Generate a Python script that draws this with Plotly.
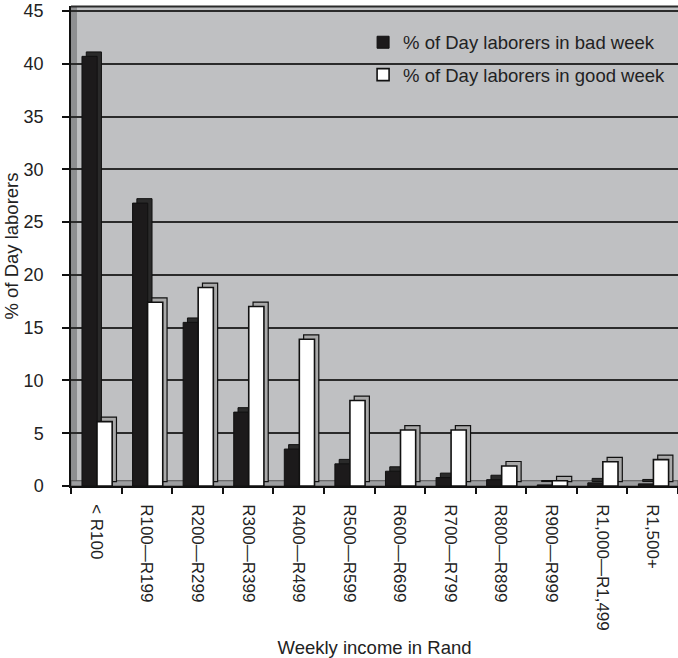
import plotly.graph_objects as go

categories = ["< R100", "R100\u2014R199", "R200\u2014R299", "R300\u2014R399", "R400\u2014R499",
              "R500\u2014R599", "R600\u2014R699", "R700\u2014R799", "R800\u2014R899",
              "R900\u2014R999", "R1,000\u2014R1,499", "R1,500+"]
bad_week = [40.7, 26.8, 15.5, 7.0, 3.5, 2.1, 1.4, 0.8, 0.6, 0.1, 0.3, 0.2]
good_week = [6.1, 17.4, 18.8, 17.0, 13.9, 8.1, 5.3, 5.3, 1.9, 0.5, 2.3, 2.5]
y_ticks = [0, 5, 10, 15, 20, 25, 30, 35, 40, 45]

FONT = "Liberation Sans, Arial, Helvetica, sans-serif"
TXT = "#222222"
W_FRONT = 0.30
DEPTH_X = 0.085
DEPTH_Y = 0.42

fig = go.Figure()

# bad week: depth, then front
fig.add_trace(go.Bar(x=categories, y=bad_week, base=DEPTH_Y, offset=-0.283 + DEPTH_X, width=W_FRONT,
                     marker=dict(color="#2a2a2a", line=dict(color="#111111", width=1)),
                     showlegend=False, hoverinfo="skip"))
fig.add_trace(go.Bar(x=categories, y=bad_week, offset=-0.283, width=W_FRONT,
                     name="% of Day laborers in bad week",
                     marker=dict(color="#1c1a1b", line=dict(color="#111111", width=1)),
                     legend="legend"))
# good week: depth, then front
fig.add_trace(go.Bar(x=categories, y=good_week, base=DEPTH_Y, offset=0.014 + DEPTH_X, width=W_FRONT,
                     marker=dict(color="#a9a9a9", line=dict(color="#111111", width=1.2)),
                     showlegend=False, hoverinfo="skip"))
fig.add_trace(go.Bar(x=categories, y=good_week, offset=0.014, width=W_FRONT,
                     name="% of Day laborers in good week",
                     marker=dict(color="#ffffff", line=dict(color="#111111", width=1.6)),
                     legend="legend2"))

fig.update_layout(
    width=678, height=658,
    margin=dict(l=71, r=0, t=6, b=172, autoexpand=False),
    paper_bgcolor="white",
    plot_bgcolor="#bfc0c2",
    barmode="overlay",
    font=dict(family=FONT, size=18, color=TXT),
    legend=dict(x=0.4812, xanchor="left", y=0.9235, yanchor="middle",
                bgcolor="rgba(0,0,0,0)", font=dict(size=18.5, color=TXT)),
    legend2=dict(x=0.4812, xanchor="left", y=0.856, yanchor="middle",
                 bgcolor="rgba(0,0,0,0)", font=dict(size=18.5, color=TXT)),
    shapes=[
        dict(type="rect", xref="x domain", yref="y domain", x0=0, x1=0.0099, y0=0, y1=1,
             fillcolor="#8e8f91", line=dict(width=0), layer="below"),
        dict(type="rect", xref="x domain", yref="y domain", x0=0, x1=1, y0=0, y1=0.011,
             fillcolor="#9d9ea0", line=dict(color="#555555", width=1), layer="below"),
        dict(type="line", xref="x domain", yref="y domain", x0=0, x1=1, y0=0.999, y1=0.999,
             line=dict(color="#2b2b2b", width=2), layer="below"),
    ],
)

fig.update_yaxes(range=[0, 45.47], tickvals=y_ticks, showgrid=True, gridcolor="#2b2b2b", gridwidth=1.6,
                 zeroline=False, showline=True, linecolor="#111111", linewidth=1.5,
                 ticks="outside", ticklen=7, tickcolor="#111111", tickwidth=1.5,
                 ticklabelstandoff=15, automargin=False,
                 tickfont=dict(size=18, color=TXT),
                 title=dict(text="% of Day laborers", font=dict(size=18.5, color=TXT), standoff=0))
fig.update_xaxes(showgrid=False, showline=True, linecolor="#111111", linewidth=1.5,
                 ticks="outside", tickson="boundaries", ticklen=6, tickcolor="#111111", tickwidth=1.5,
                 ticklabelstandoff=13,
                 tickangle=90, tickfont=dict(size=17, color=TXT), automargin=False,
                 title=dict(text="Weekly income in Rand", font=dict(size=18.5, color=TXT), standoff=11))

fig.write_html("out.html", config={"displayModeBar": False},
               post_script="document.body.style.margin='0';document.body.style.padding='0';")
